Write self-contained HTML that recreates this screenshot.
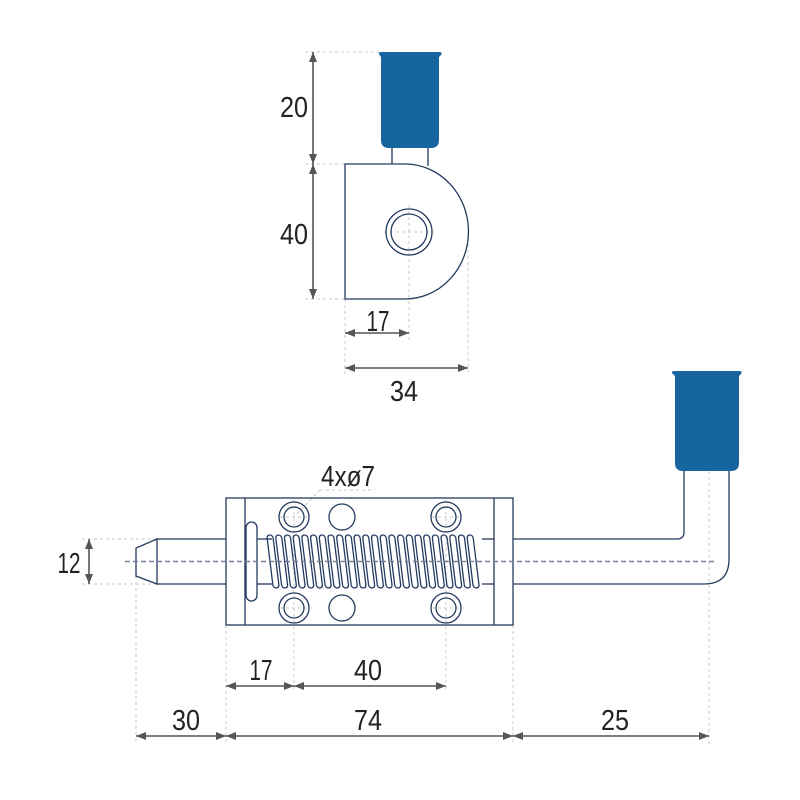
<!DOCTYPE html>
<html><head><meta charset="utf-8"><style>html,body{margin:0;padding:0;background:#fff}svg{display:block}</style></head>
<body>
<svg width="800" height="800" viewBox="0 0 800 800" xmlns="http://www.w3.org/2000/svg">
<defs>
<marker id="a" viewBox="0 0 10 10" refX="10" refY="5" markerWidth="10" markerHeight="10" markerUnits="userSpaceOnUse" orient="auto-start-reverse"><path d="M0,1 L10,5 L0,9 z" fill="#555"/></marker>
<rect id="c" x="-3" y="-26.5" width="6" height="53" rx="3" fill="none" stroke="#243a5e" stroke-width="1.3" transform="skewX(7)"/>
</defs>
<g stroke="#c8c8c8" stroke-width="1" stroke-dasharray="3,3" fill="none">
<line x1="305" y1="52" x2="380" y2="52"/><line x1="305" y1="164" x2="345" y2="164"/><line x1="305" y1="299" x2="345" y2="299"/>
<line x1="345" y1="299" x2="345" y2="375"/><line x1="409" y1="205" x2="409" y2="340"/><line x1="468" y1="232" x2="468" y2="375"/>
<line x1="384" y1="232" x2="434" y2="232"/>
<line x1="82" y1="539" x2="157" y2="539"/><line x1="82" y1="584" x2="157" y2="584"/>
<line x1="136" y1="576" x2="136" y2="745"/><line x1="226" y1="625" x2="226" y2="745"/><line x1="513" y1="625" x2="513" y2="745"/><line x1="709" y1="471" x2="709" y2="745"/>
<line x1="294" y1="500" x2="294" y2="692"/><line x1="446" y1="500" x2="446" y2="692"/>
<line x1="280" y1="517" x2="308" y2="517"/><line x1="432" y1="517" x2="460" y2="517"/><line x1="280" y1="608" x2="308" y2="608"/><line x1="432" y1="608" x2="460" y2="608"/>
<line x1="320" y1="490" x2="375" y2="490"/><line x1="320" y1="490" x2="294" y2="517"/>
</g>
<g stroke="#555" stroke-width="1.6" marker-start="url(#a)" marker-end="url(#a)">
<line x1="313" y1="52" x2="313" y2="164"/><line x1="313" y1="164" x2="313" y2="299"/>
<line x1="345" y1="333" x2="409" y2="333"/><line x1="345" y1="368" x2="468" y2="368"/>
<line x1="89" y1="539" x2="89" y2="584"/>
<line x1="226" y1="686" x2="294" y2="686"/><line x1="294" y1="686" x2="446" y2="686"/>
<line x1="136" y1="736" x2="226" y2="736"/><line x1="226" y1="736" x2="513" y2="736"/><line x1="513" y1="736" x2="709" y2="736"/>
</g>
<g fill="#222" font-family="'Liberation Sans Narrow','Liberation Sans',sans-serif" font-size="29" text-anchor="middle">
<text x="294" y="117" textLength="28" lengthAdjust="spacingAndGlyphs">20</text>
<text x="294" y="244" textLength="28" lengthAdjust="spacingAndGlyphs">40</text>
<text x="378" y="331" textLength="23" lengthAdjust="spacingAndGlyphs">17</text>
<text x="404" y="401" textLength="28" lengthAdjust="spacingAndGlyphs">34</text>
<text x="348" y="486" textLength="54" lengthAdjust="spacingAndGlyphs">4xø7</text>
<text x="69" y="573" textLength="23" lengthAdjust="spacingAndGlyphs">12</text>
<text x="261" y="680" textLength="23" lengthAdjust="spacingAndGlyphs">17</text>
<text x="368" y="680" textLength="28" lengthAdjust="spacingAndGlyphs">40</text>
<text x="186" y="730" textLength="28" lengthAdjust="spacingAndGlyphs">30</text>
<text x="368" y="730" textLength="28" lengthAdjust="spacingAndGlyphs">74</text>
<text x="615" y="730" textLength="28" lengthAdjust="spacingAndGlyphs">25</text>
</g>
<path d="M379,54 Q378,52 382,52 L439,52 Q443,52 441,55 L439,57 L439,140 Q439,148 431,148 L389,148 Q381,148 381,140 L381,57 Z" fill="#17659f"/>
<g fill="none" stroke="#243a5e" stroke-width="1.3">
<line x1="392" y1="148" x2="392" y2="164"/><line x1="428" y1="148" x2="428" y2="166"/>
<path d="M345,164 L405,164 A63,67 0 0 1 405,299 L345,299 Z"/>
<circle cx="409" cy="232" r="23"/><circle cx="409" cy="232" r="18"/>
</g>
<path d="M672,373 Q671,371 675,371 L739,371 Q743,371 741,374 L739,376 L739,463 Q739,471 731,471 L683,471 Q675,471 675,463 L675,376 Z" fill="#17659f"/>
<g fill="none" stroke="#243a5e" stroke-width="1.3">
<path d="M157,539 L136,548 L136,576 L157,584 Z"/>
<line x1="157" y1="539" x2="226" y2="539"/><line x1="157" y1="584" x2="226" y2="584"/>
<rect x="226" y="498" width="287" height="127"/>
<line x1="245" y1="498" x2="245" y2="625"/><line x1="494" y1="498" x2="494" y2="625"/>
<rect x="246" y="522" width="11" height="79" rx="5.5"/>
<line x1="257" y1="539" x2="272" y2="539"/><line x1="257" y1="584" x2="272" y2="584"/>
<line x1="482" y1="539" x2="494" y2="539"/><line x1="482" y1="584" x2="494" y2="584"/>
<path d="M513,539 L677,539 Q684,539 684,532 L684,471"/>
<path d="M513,584 L704,584 Q729,584 729,559 L729,471"/>
<circle cx="294" cy="517" r="15"/><circle cx="294" cy="517" r="10"/>
<circle cx="446" cy="517" r="15"/><circle cx="446" cy="517" r="10"/>
<circle cx="294" cy="608" r="15"/><circle cx="294" cy="608" r="10"/>
<circle cx="446" cy="608" r="15"/><circle cx="446" cy="608" r="10"/>
<circle cx="342" cy="517" r="13"/><circle cx="342" cy="608" r="13"/>
</g>
<g transform="translate(0,561.5)">
<use href="#c" x="273"/><use href="#c" x="281.7"/><use href="#c" x="290.4"/><use href="#c" x="299.1"/><use href="#c" x="307.8"/>
<use href="#c" x="316.5"/><use href="#c" x="325.2"/><use href="#c" x="333.9"/><use href="#c" x="342.6"/><use href="#c" x="351.3"/>
<use href="#c" x="360"/><use href="#c" x="368.7"/><use href="#c" x="377.4"/><use href="#c" x="386.1"/><use href="#c" x="394.8"/>
<use href="#c" x="403.5"/><use href="#c" x="412.2"/><use href="#c" x="420.9"/><use href="#c" x="429.6"/><use href="#c" x="438.3"/>
<use href="#c" x="447"/><use href="#c" x="455.7"/><use href="#c" x="464.4"/><use href="#c" x="473.1"/>
</g>
<line x1="125" y1="561.5" x2="715" y2="561.5" stroke="#7a7f99" stroke-width="1.5" stroke-dasharray="5,3"/>
</svg>
</body></html>
